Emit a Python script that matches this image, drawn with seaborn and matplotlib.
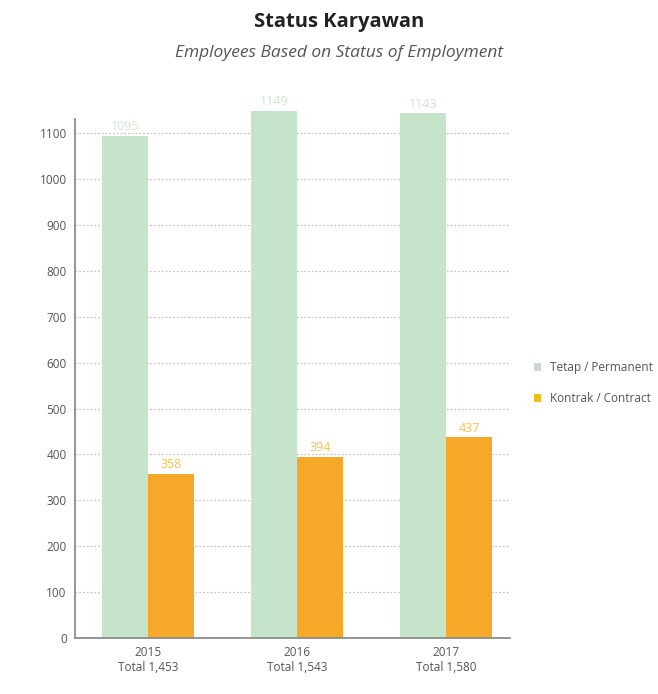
import matplotlib
matplotlib.use("Agg")
import matplotlib.pyplot as plt
import seaborn as sns
import pandas as pd
from matplotlib.patches import Patch

years = ["2015", "2016", "2017"]
totals = ["Total 1,453", "Total 1,543", "Total 1,580"]
permanent = [1095, 1149, 1143]
contract = [358, 394, 437]
series_names = ["Tetap / Permanent", "Kontrak / Contract"]
yticks = [0, 100, 200, 300, 400, 500, 600, 700, 800, 900, 1000, 1100]

df = pd.DataFrame({
    "year": years * 2,
    "value": permanent + contract,
    "series": [series_names[0]] * 3 + [series_names[1]] * 3,
})

green = "#c6e4c9"
orange = "#f6a828"
label_colors = ["#cfe6d1", "#f5c24e"]

sns.set_theme(style="white")
plt.rcParams["font.family"] = ["Open Sans", "DejaVu Sans"]

fig = plt.figure(figsize=(6.58, 6.94), dpi=100)
ax = fig.add_axes([0.114, 0.0807, 0.661, 0.767])

sns.barplot(data=df, x="year", y="value", hue="series", order=years,
            hue_order=series_names, palette=[green, orange], width=0.62,
            dodge=True, ax=ax, legend=False, saturation=1, edgecolor="none")

for i, cont in enumerate(ax.containers):
    ax.bar_label(cont, labels=[str(int(v)) for v in cont.datavalues],
                 color=label_colors[i], fontsize=9, padding=2)

ax.set_ylim(0, 1160)
ax.set_xlim(-0.49, 2.43)
ax.set_yticks(yticks)
ax.set_yticklabels([str(t) for t in yticks], color="#555555", fontsize=8.5)
ax.set_xticks(range(3))
ax.set_xticklabels([f"{y}\n{t}" for y, t in zip(years, totals)],
                   color="#555555", fontsize=8.5)
ax.set_xlabel("")
ax.set_ylabel("")
ax.tick_params(axis="both", length=0, pad=6)
ax.yaxis.grid(True, linestyle=(0, (1.5, 1.5)), color="#c4c4c4", linewidth=0.9)
ax.set_axisbelow(True)
for s in ["top", "right"]:
    ax.spines[s].set_visible(False)
ax.spines["left"].set_bounds(0, 1130)
ax.spines["left"].set_color("#888888")
ax.spines["bottom"].set_color("#888888")

handles = [Patch(facecolor="#cfd8cf", edgecolor="none"),
           Patch(facecolor="#e8c020", edgecolor="none")]
fig.legend(handles, series_names, loc="center left",
           bbox_to_anchor=(0.795, 0.448), frameon=False, fontsize=8.5,
           handlelength=0.6, handleheight=0.6, labelspacing=1.5,
           labelcolor="#555555")

fig.text(0.515, 0.969, "Status Karyawan", ha="center", va="center",
         fontsize=14.5, fontweight="bold", color="#222222")
fig.text(0.515, 0.923, "Employees Based on Status of Employment", ha="center",
         va="center", fontsize=12.5, style="italic", color="#555555")

fig.savefig("out.png", dpi=100)
